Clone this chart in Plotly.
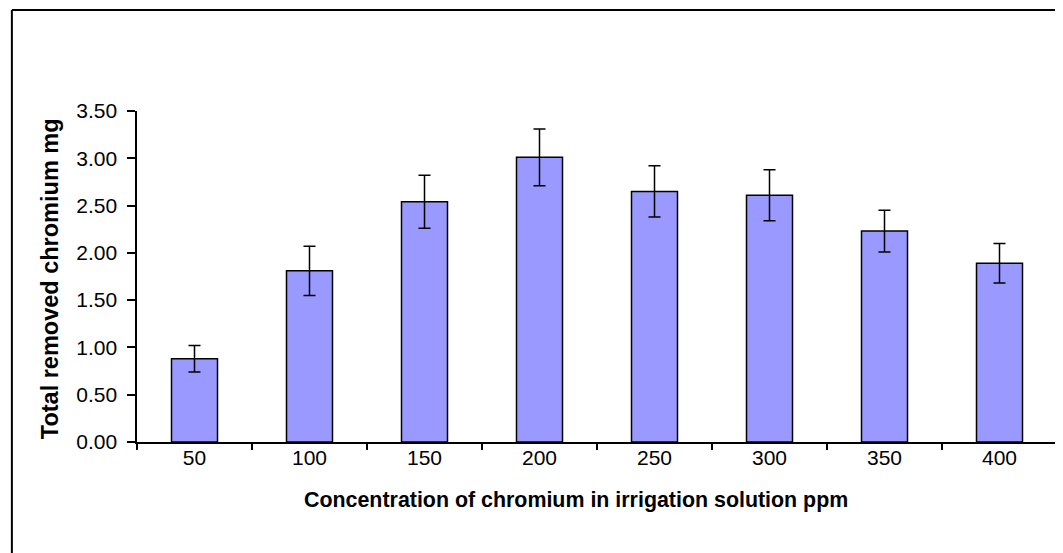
import plotly.graph_objects as go

# data
concentrations = ['50', '100', '150', '200', '250', '300', '350', '400']
removed_mg = [0.88, 1.81, 2.54, 3.01, 2.65, 2.61, 2.23, 1.89]
error_mg = [0.14, 0.26, 0.28, 0.30, 0.27, 0.27, 0.22, 0.21]

FONT = 'Liberation Sans, Arial, sans-serif'

fig = go.Figure()
fig.add_trace(go.Bar(
    x=concentrations,
    y=removed_mg,
    marker=dict(color='#9999FF', line=dict(color='black', width=1.5)),
    error_y=dict(type='data', array=error_mg, visible=True,
                 color='black', thickness=1.5, width=6),
    showlegend=False,
))

# the page body adds an 8px offset, so margins are shifted to compensate
fig.update_layout(
    width=1063,
    height=553,
    margin=dict(l=129, r=14, t=103, b=119),
    paper_bgcolor='white',
    plot_bgcolor='white',
    bargap=0.6,
    font=dict(family=FONT, size=21, color='black'),
    xaxis=dict(
        showline=True, linecolor='black', linewidth=1.5,
        ticks='outside', ticklen=6, tickwidth=1.5, tickcolor='black',
        tickson='boundaries', ticklabelstandoff=-4,
        showgrid=False,
    ),
    yaxis=dict(
        range=[0, 3.5], dtick=0.5, tickformat='.2f', ticksuffix=' ',
        showline=True, linecolor='black', linewidth=1.5,
        ticks='outside', ticklen=8, tickwidth=1.5, tickcolor='black',
        showgrid=False, zeroline=False,
    ),
    annotations=[
        dict(text='<b>Concentration of chromium in irrigation solution ppm</b>',
             xref='paper', yref='paper', x=0.477, y=-0.175,
             xanchor='center', yanchor='middle', showarrow=False,
             font=dict(size=21.4)),
        dict(text='<b>Total removed chromium mg</b>', textangle=-90,
             xref='paper', yref='paper', x=-0.0945, y=0.492,
             xanchor='center', yanchor='middle', showarrow=False,
             font=dict(size=23.5)),
    ],
    shapes=[
        dict(type='line', xref='paper', yref='paper',
             x0=-0.136, x1=1.2, y0=1.305, y1=1.305,
             line=dict(color='black', width=2)),
        dict(type='line', xref='paper', yref='paper',
             x0=-0.136, x1=-0.136, y0=-0.5, y1=1.305,
             line=dict(color='black', width=2)),
    ],
)

fig.write_html("out.html")
